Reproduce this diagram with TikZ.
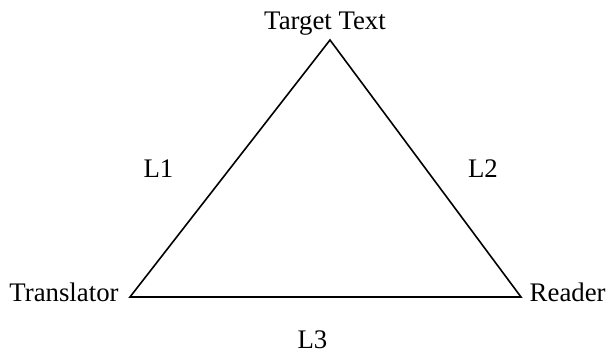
\documentclass[tikz,border=0pt]{standalone}
\usepackage{fontspec}
\setmainfont{Liberation Serif}
\usepackage{tikz}
\usetikzlibrary{positioning}

\tikzset{
    lbl/.style={inner sep=0pt, font=\fontsize{13.4}{16}\selectfont},
    side/.style={line width=0.8pt, line join=miter}
}

\begin{document}
\begin{tikzpicture}[x=0.5pt, y=-0.5pt]

    \useasboundingbox (0,0) rectangle (609,352);

    % corners of the triangle
    \coordinate (target) at (330,40);
    \coordinate (translator) at (130,297);
    \coordinate (reader) at (521,297);

    \draw[side] (target) -- (translator) -- (reader) -- cycle;

    \node[lbl, anchor=base] (targetlbl) at (325,30) {Target Text};
    \node[lbl, anchor=base east] (translatorlbl) at (119,301) {Translator};
    \node[lbl, anchor=base east] (readerlbl) at (606,301) {Reader};

    \node[lbl, anchor=base] (l1) at (158.5,177) {L1};
    \node[lbl, anchor=base] (l2) at (483,177) {L2};
    \node[lbl, anchor=base] (l3) at (312.5,348) {L3};

\end{tikzpicture}
\end{document}
